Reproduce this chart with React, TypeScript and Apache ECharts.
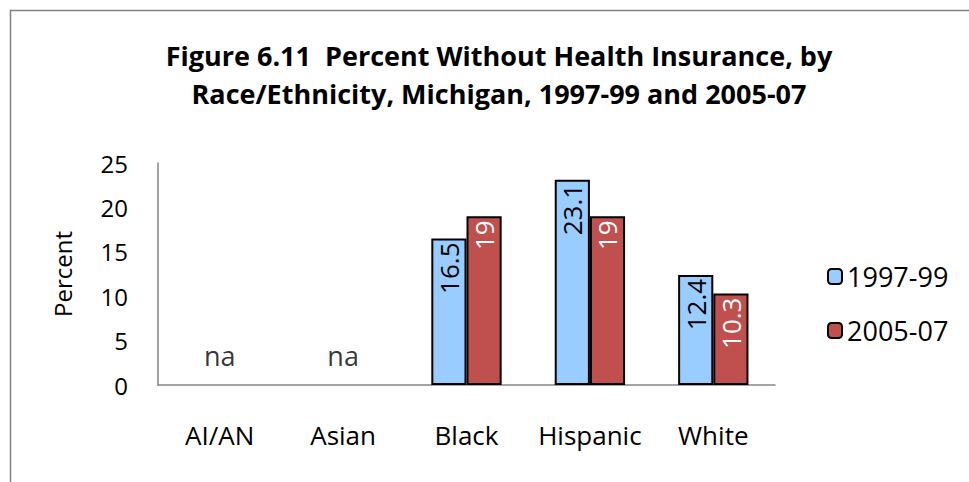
import React, { useEffect, useRef } from "react";
import * as echarts from "echarts";

const categories = ["AI/AN", "Asian", "Black", "Hispanic", "White"];
const series1997: (number | null)[] = [null, null, 16.5, 23.1, 12.4];
const series2005: (number | null)[] = [null, null, 19, 19, 10.3];
const naCategories = ["AI/AN", "Asian"];
const yTicks = [0, 5, 10, 15, 20, 25];

const FONT = "'Open Sans', sans-serif";

export default function App() {
  const ref = useRef<HTMLDivElement>(null);
  useEffect(() => {
    if (!ref.current) return;
    const chart = echarts.init(ref.current, undefined, { renderer: "svg" });
    chart.setOption({
      animation: false,
      backgroundColor: "#ffffff",
      textStyle: { fontFamily: FONT },
      title: {
        text: "Figure 6.11  Percent Without Health Insurance, by\nRace/Ethnicity, Michigan, 1997-99 and 2005-07",
        left: 494,
        top: 31,
        textAlign: "center",
        textStyle: { fontFamily: FONT, fontWeight: "bold", fontSize: 27, lineHeight: 38, color: "#000" },
      },
      graphic: [
        {
          type: "rect",
          shape: { x: 10.5, y: 10.5, width: 1000, height: 1000 },
          style: { fill: "none", stroke: "#7f7f7f", lineWidth: 1.5 },
          silent: true,
        },
      ],
      legend: {
        orient: "vertical",
        left: 822,
        top: 258,
        itemWidth: 14,
        itemHeight: 15,
        itemGap: 27,
        data: ["1997-99", "2005-07"],
        textStyle: { fontFamily: FONT, fontSize: 27, color: "#000" },
      },
      grid: { left: 158, right: 194, top: 163, bottom: 97, containLabel: false },
      xAxis: {
        type: "category",
        data: categories,
        axisLine: { lineStyle: { color: "#868686", width: 1.5 } },
        axisTick: { show: false },
        axisLabel: { interval: 0, fontFamily: FONT, fontSize: 26, color: "#000", margin: 37 },
      },
      yAxis: {
        type: "value",
        min: 0,
        max: 25,
        interval: 5,
        name: "Percent",
        nameLocation: "middle",
        nameGap: 84,
        nameRotate: 90,
        nameTextStyle: { fontFamily: FONT, fontSize: 24, color: "#000" },
        axisLine: { show: true, lineStyle: { color: "#868686", width: 1.5 } },
        axisTick: { show: false },
        splitLine: { show: false },
        axisLabel: {
          fontFamily: FONT,
          fontSize: 24,
          color: "#000",
          margin: 30,
          formatter: (v: number) => (yTicks.includes(v) ? String(v) : ""),
        },
      },
      series: [
        {
          name: "1997-99",
          type: "bar",
          data: series1997,
          barGap: "0%",
          barCategoryGap: "43%",
          itemStyle: { color: "#99CCFF", borderColor: "#000", borderWidth: 2 },
          label: {
            show: true,
            position: "insideTop",
            rotate: 90,
            align: "right",
            verticalAlign: "middle",
            distance: 4,
            fontFamily: FONT,
            fontSize: 26,
            color: "#000",
          },
        },
        {
          name: "2005-07",
          type: "bar",
          data: series2005,
          itemStyle: { color: "#C0504D", borderColor: "#000", borderWidth: 2 },
          label: {
            show: true,
            position: "insideTop",
            rotate: 90,
            align: "right",
            verticalAlign: "middle",
            distance: 4,
            fontFamily: FONT,
            fontSize: 26,
            color: "#fff",
          },
        },
        {
          name: "na",
          type: "scatter",
          symbolSize: 0,
          data: naCategories.map((c) => [c, 0]),
          label: {
            show: true,
            position: "inside",
            offset: [0, -30],
            formatter: () => "na",
            fontFamily: FONT,
            fontSize: 27,
            color: "#000",
          },
          silent: true,
        },
      ],
    });
    return () => chart.dispose();
  }, []);
  return (
    <div
      ref={ref}
      style={{ position: "absolute", left: 0, top: 0, width: 969, height: 482 }}
    />
  );
}
